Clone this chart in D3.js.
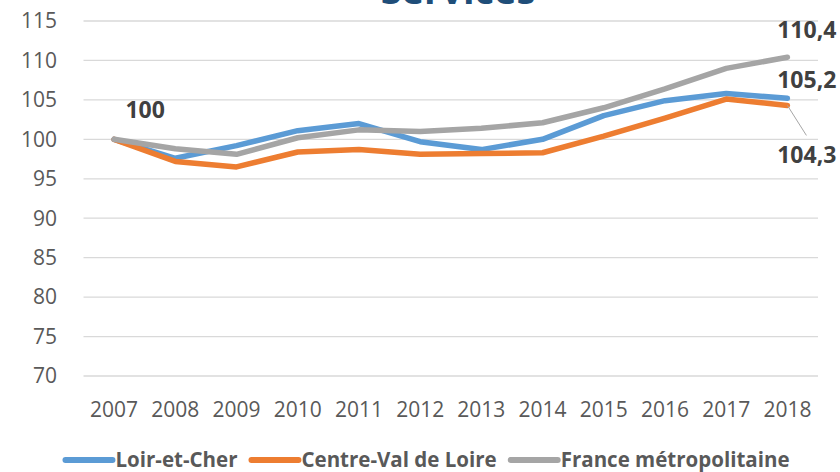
<!DOCTYPE html>
<html>
<head>
<meta charset="utf-8">
<script src="https://cdn.jsdelivr.net/npm/d3@7"></script>
<style>
  body { margin: 0; background: #fff; }
  svg { display: block; font-family: "Open Sans", "Noto Sans", sans-serif; }
</style>
</head>
<body>
<svg width="840" height="472"></svg>
<script>
const years = [2007, 2008, 2009, 2010, 2011, 2012, 2013, 2014, 2015, 2016, 2017, 2018];
const loirEtCher = [100, 97.6, 99.2, 101.1, 102.0, 99.7, 98.7, 100.0, 103.0, 104.9, 105.8, 105.2];
const centreVdl = [100, 97.2, 96.5, 98.4, 98.7, 98.1, 98.2, 98.3, 100.4, 102.7, 105.1, 104.3];
const france = [100, 98.8, 98.1, 100.2, 101.2, 101.0, 101.4, 102.1, 104.0, 106.4, 109.0, 110.4];
const seriesNames = ["Loir-et-Cher", "Centre-Val de Loire", "France métropolitaine"];
const yTicks = [70, 75, 80, 85, 90, 95, 100, 105, 110, 115];

const colors = ["#5B9BD5", "#ED7D31", "#A5A5A5"];
const series = [loirEtCher, centreVdl, france].map((vals, i) => ({
  name: seriesNames[i],
  color: colors[i],
  values: vals.map((v, j) => ({ year: years[j], v }))
}));

const svg = d3.select("svg");

const x = d3.scalePoint().domain(years).range([83.5, 818]).padding(0.5);
const y = d3.scaleLinear().domain([70, 115]).range([376, 21]);

// gridlines
svg.append("g")
  .selectAll("line")
  .data(yTicks)
  .join("line")
  .attr("x1", 83.5).attr("x2", 818)
  .attr("y1", d => y(d)).attr("y2", d => y(d))
  .attr("stroke", "#D9D9D9").attr("stroke-width", 1.3);

// y axis labels
svg.append("g")
  .selectAll("text")
  .data(yTicks)
  .join("text")
  .attr("x", 57).attr("y", d => y(d))
  .attr("dy", "0.35em")
  .attr("text-anchor", "end")
  .attr("fill", "#595959")
  .attr("font-size", 21)
  .text(d => d);

// x axis labels
svg.append("g")
  .selectAll("text")
  .data(years)
  .join("text")
  .attr("x", d => x(d)).attr("y", 417)
  .attr("text-anchor", "middle")
  .attr("fill", "#595959")
  .attr("font-size", 21)
  .text(d => d);

// lines
const line = d3.line().x(d => x(d.year)).y(d => y(d.v));
svg.append("g")
  .selectAll("path")
  .data(series)
  .join("path")
  .attr("fill", "none")
  .attr("stroke", d => d.color)
  .attr("stroke-width", 5.5)
  .attr("stroke-linejoin", "round")
  .attr("stroke-linecap", "round")
  .attr("d", d => line(d.values));

// data labels
const fmt = v => String(v).replace(".", ",");
const last = years[years.length - 1];
const labels = [
  { v: loirEtCher[0], x: x(years[0]) + 31, y: y(loirEtCher[0]) - 21, anchor: "middle" },
  { v: france[11], x: x(last) + 49, y: y(france[11]) - 19, anchor: "end" },
  { v: loirEtCher[11], x: x(last) + 49, y: y(loirEtCher[11]) - 10, anchor: "end" },
  { v: centreVdl[11], x: x(last) + 49, y: y(centreVdl[11]) + 58, anchor: "end" }
];

// leader line for the orange label
svg.append("line")
  .attr("x1", x(last)).attr("y1", y(centreVdl[11]))
  .attr("x2", x(last) + 19).attr("y2", y(centreVdl[11]) + 30)
  .attr("stroke", "#A6A6A6").attr("stroke-width", 1);

svg.append("g")
  .selectAll("text")
  .data(labels)
  .join("text")
  .attr("x", d => d.x).attr("y", d => d.y)
  .attr("text-anchor", d => d.anchor)
  .attr("fill", "#404040")
  .attr("font-size", 23)
  .attr("font-weight", "bold")
  .text(d => fmt(d.v));

// title (cut off at top, as in the original)
svg.append("text")
  .attr("x", 458).attr("y", 4)
  .attr("text-anchor", "middle")
  .attr("fill", "#1F4E79")
  .attr("font-size", 38)
  .attr("font-weight", "bold")
  .text("Services");

// legend
const legend = svg.append("g");
let lx = 0;
series.forEach(s => {
  const g = legend.append("g").attr("transform", `translate(${lx},0)`);
  g.append("line")
    .attr("x1", 3).attr("x2", 50)
    .attr("y1", 0).attr("y2", 0)
    .attr("stroke", s.color).attr("stroke-width", 6)
    .attr("stroke-linecap", "round");
  const t = g.append("text")
    .attr("x", 53).attr("dy", "0.35em")
    .attr("fill", "#595959")
    .attr("font-size", 20.5)
    .attr("font-weight", "bold")
    .text(s.name);
  lx += 53 + t.node().getComputedTextLength() + 11;
});
legend.attr("transform", `translate(${426 - (lx - 11) / 2},460)`);
</script>
</body>
</html>
